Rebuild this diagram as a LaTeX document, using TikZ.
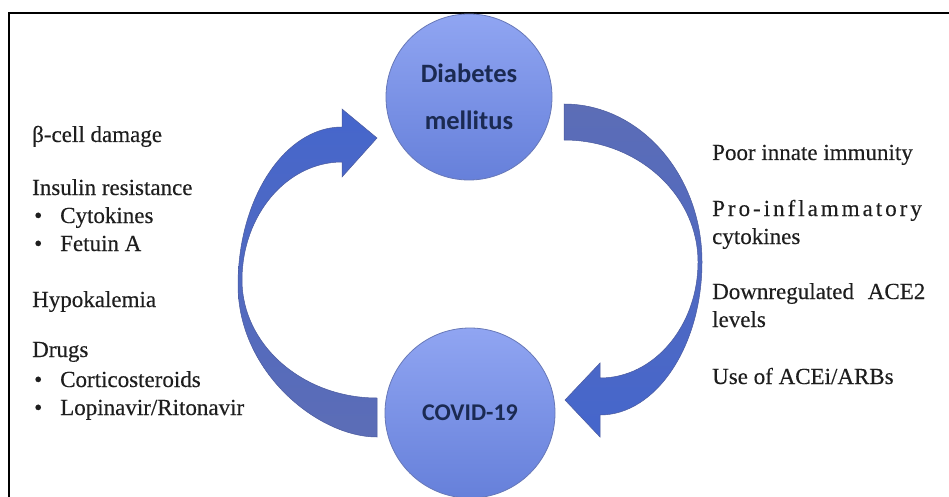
\documentclass[tikz,border=0pt]{standalone}
\usepackage{fontspec}
\setmainfont{Liberation Serif}[FakeBold=0.3]
\newfontfamily\circfont{Carlito}
\definecolor{circTop}{HTML}{90A5F2}
\definecolor{circBot}{HTML}{6680DA}
\definecolor{circLine}{HTML}{6778B8}
\definecolor{arrBright}{HTML}{4566CC}
\definecolor{arrMuted}{HTML}{5C6DB6}
\definecolor{arrEdge}{HTML}{4A5A9E}
\definecolor{navy}{HTML}{1B2A52}
\definecolor{txt}{HTML}{1E1E1E}
\begin{document}
\begin{tikzpicture}[x=1pt,y=-1pt,
  circ/.style={circle, minimum size=#1, inner sep=0pt, top color=circTop, bottom color=circBot,
    draw=circLine, line width=0.8pt, text=navy, align=center},
  lbl/.style={anchor=base west, inner sep=0pt, text=txt, font=\fontsize{23}{28}\selectfont},
  blockarrow/.style={draw=arrEdge, line width=0.5pt},
  frameline/.style={draw=black, line width=2pt}]
\clip (0,0) rectangle (949,497);
\fill[white] (0,0) rectangle (949,497);
% frame (left and top sides visible)
\draw[frameline] (9,500) -- (9,13) -- (952,13);

% curved arrow: COVID-19 -> Diabetes mellitus (left)
\path[blockarrow, top color=arrBright, bottom color=arrMuted]
  (377,437) .. controls (318,437) and (238,372) .. (238,285)
  .. controls (238,198) and (285,127) .. (342,127)
  -- (342,109) -- (377,138) -- (342,177) -- (342,162)
  .. controls (287,162) and (242,215) .. (242,280)
  .. controls (242,345) and (303,398) .. (377,398)
  -- cycle;

% curved arrow: Diabetes mellitus -> COVID-19 (right)
\path[blockarrow, top color=arrMuted, bottom color=arrBright]
  (564,104) .. controls (640,104) and (702,175) .. (702,262)
  .. controls (702,346) and (656,415) .. (600,415)
  -- (600,437) -- (565,400) -- (600,363) -- (600,378)
  .. controls (654,378) and (698,326) .. (698,262)
  .. controls (698,195) and (638,140) .. (564,140)
  -- cycle;

% circles
\node[circ=166pt, font=\circfont\bfseries\fontsize{26.5}{47}\selectfont] (dm) at (469,97) {Diabetes\\mellitus};
\node[circ=170pt, font=\circfont\bfseries\fontsize{24}{30}\selectfont] (cov) at (470,413) {COVID-19};

% left labels
\node[lbl] (l1) at (32,142) {β-cell damage};
\node[lbl] (l2) at (32,195) {Insulin resistance};
\node[lbl] (b1) at (34,223) {•};
\node[lbl] (l3) at (60,223) {Cytokines};
\node[lbl] (b2) at (34,251) {•};
\node[lbl] (l4) at (60,251) {Fetuin A};
\node[lbl] (l5) at (32,307) {Hypokalemia};
\node[lbl] (l6) at (32,357) {Drugs};
\node[lbl] (b3) at (34,387) {•};
\node[lbl] (l7) at (60,387) {Corticosteroids};
\node[lbl] (b4) at (34,415) {•};
\node[lbl] (l8) at (60,415) {Lopinavir/Ritonavir};

% right labels
\node[lbl] (r1) at (712,160) {Poor innate immunity};
\node[lbl, font=\fontsize{23}{28}\selectfont\addfontfeature{LetterSpace=13}] (r2) at (712,216) {Pro-inflammatory};
\node[lbl] (r3) at (712,244) {cytokines};
\node[lbl] (r4) at (712,299) {Downregulated\hspace{0.6em}ACE2};
\node[lbl] (r5) at (712,327) {levels};
\node[lbl] (r6) at (712,384) {Use of ACEi/ARBs};
\end{tikzpicture}
\end{document}
